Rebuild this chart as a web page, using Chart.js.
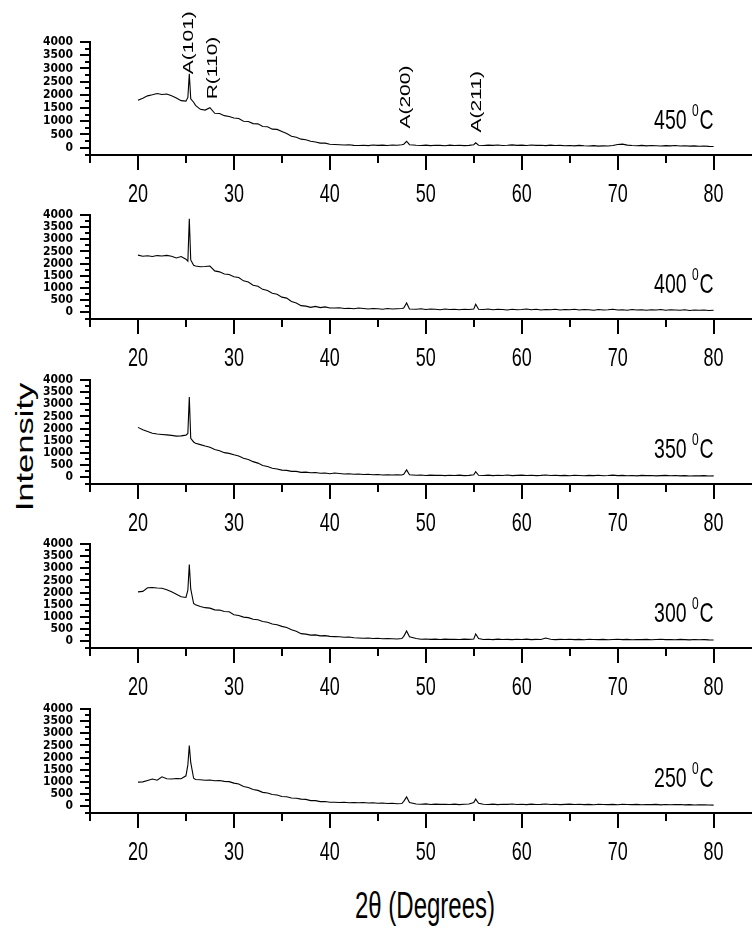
<!DOCTYPE html>
<html>
<head>
<meta charset="utf-8">
<script src="https://cdn.jsdelivr.net/npm/chart.js"></script>
<style>
  html, body { margin: 0; padding: 0; background: #fff; }
  #fig { position: relative; width: 752px; height: 929px; overflow: hidden; background: #fff; }
  #fig canvas { position: absolute; left: 0; }
  .title { position: absolute; font-family: 'Liberation Sans', Arial, sans-serif; color: #000; white-space: nowrap; line-height: 1; }
  #ytitle { left: 25px; top: 447px; font-size: 23px; transform: translate(-50%, -50%) rotate(-90deg) scaleX(1.5); }
  #xtitle { left: 425px; top: 906px; font-size: 24px; transform: translate(-50%, -50%) scaleY(1.55); }
</style>
</head>
<body>
<div id="fig">
  <div class="title" id="ytitle">Intensity</div>
  <div class="title" id="xtitle">2θ (Degrees)</div>
</div>
<script>
// 2-theta positions (degrees), shared by all five patterns
const angles = [
  20, 20.5, 21, 21.5, 22, 22.5, 23, 23.5, 24, 24.5, 25,
  25.2, 25.35, 25.5, 25.8,
  26, 26.5, 27, 27.5, 28, 28.5, 29, 29.5, 30, 30.5, 31, 31.5, 32, 32.5, 33, 33.5, 34, 34.5, 35, 35.5, 36, 36.5, 37, 37.5, 38, 38.5, 39, 39.5, 40,
  40.5, 41, 41.5, 42, 42.5, 43, 43.5, 44, 44.5, 45, 45.5, 46, 46.5, 47, 47.5,
  47.7, 48, 48.3,
  49, 49.5, 50, 50.5, 51, 51.5, 52, 52.5, 53, 53.5, 54, 54.5, 55,
  55.2, 55.5,
  56, 56.5, 57, 57.5, 58, 58.5, 59, 59.5, 60, 60.5, 61, 61.5, 62, 62.5, 63, 63.5, 64, 64.5, 65, 65.5,
  66, 66.5, 67, 67.5, 68, 68.5, 69, 69.5, 70, 70.5, 71, 71.5, 72, 72.5, 73, 73.5, 74, 74.5, 75, 75.5,
  76, 76.5, 77, 77.5, 78, 78.5, 79, 79.5, 80
];

const s450 = [
  1790, 1870, 1960, 2000, 2050, 2010, 2030, 1960, 1880, 1780, 1760,
  1900, 2800, 1850, 1720,
  1600, 1450, 1420, 1510, 1300, 1290, 1210, 1180, 1120, 1100, 1000, 990, 910, 900, 800, 790, 700, 690, 610, 530, 430, 390, 320, 300, 240, 210, 170, 170, 130,
  120, 110, 100, 110, 85, 80, 90, 75, 100, 85, 95, 80, 100, 90, 110,
  130, 240, 110,
  90, 80, 95, 75, 90, 85, 70, 95, 80, 90, 75, 85, 110,
  180, 90,
  80, 95, 85, 100, 80, 90, 105, 85, 95, 80, 100, 85, 90, 75, 95, 80, 85, 70, 80, 65,
  85, 70, 60, 75, 55, 65, 60, 80, 120, 130, 95, 80, 70, 85, 65, 80, 70, 60, 75, 65,
  80, 60, 70, 55, 65, 50, 60, 45, 40
];

const s400 = [
  2350, 2300, 2320, 2290, 2330, 2310, 2340, 2300, 2230, 2290, 2180,
  2100, 3850, 2150, 1930,
  1900, 1870, 1880, 1900, 1700, 1660, 1570, 1550, 1460, 1430, 1290, 1240, 1110, 1070, 940, 890, 780, 740, 620, 580, 440, 380, 270, 250, 200, 240, 190, 220, 170,
  170, 180, 150, 160, 140, 170, 150, 130, 150, 140, 120, 150, 130, 140, 150,
  170, 380, 130,
  120, 140, 110, 130, 120, 100, 130, 110, 120, 100, 120, 110, 130,
  330, 120,
  110, 130, 100, 120, 110, 90, 120, 100, 110, 130, 100, 120, 90, 110, 100, 120, 90, 110, 100, 120,
  90, 110, 100, 80, 110, 90, 100, 120, 90, 100, 80, 110, 90, 100, 80, 100, 90, 110, 80, 100,
  90, 80, 100, 70, 90, 80, 90, 70, 80
];

const s350 = [
  2050, 1950, 1880, 1810, 1780, 1760, 1740, 1720, 1690, 1700, 1730,
  1800, 3300, 1600, 1450,
  1400, 1340, 1280, 1230, 1140, 1090, 1010, 980, 920, 870, 780, 730, 640, 580, 480, 440, 370, 340, 290, 280, 240, 240, 200, 210, 180, 190, 160, 170, 140,
  170, 150, 130, 140, 120, 130, 110, 120, 100, 110, 90, 100, 90, 100, 90,
  120, 300, 100,
  80, 90, 70, 85, 75, 80, 65, 80, 70, 85, 65, 75, 100,
  230, 80,
  70, 85, 65, 80, 70, 90, 65, 75, 85, 70, 80, 65, 75, 90, 70, 80, 65, 75, 60, 80,
  70, 60, 75, 65, 80, 60, 70, 85, 65, 75, 60, 70, 55, 75, 65, 70, 55, 65, 75, 60,
  70, 55, 65, 50, 60, 55, 65, 50, 55
];

const s300 = [
  2030, 2050, 2200, 2210, 2190, 2180, 2120, 2030, 1930, 1830, 1800,
  2100, 3150, 2150, 1550,
  1500, 1430, 1380, 1360, 1290, 1280, 1220, 1210, 1090, 1060, 990, 970, 900, 880, 810, 780, 710, 680, 610, 560, 470, 410, 310, 290, 250, 260, 220, 230, 200,
  190, 180, 160, 170, 140, 130, 120, 130, 110, 120, 100, 110, 100, 90, 110,
  200, 420, 180,
  110, 80, 90, 75, 85, 70, 85, 75, 80, 70, 85, 75, 90,
  300, 110,
  70, 80, 65, 85, 70, 75, 65, 80, 70, 85, 65, 75, 70, 130, 80, 65, 75, 70, 80, 65,
  75, 60, 80, 70, 65, 75, 60, 70, 80, 65, 75, 60, 70, 65, 75, 60, 70, 80, 65, 70,
  60, 75, 65, 55, 70, 60, 65, 55, 50
];

const s250 = [
  990, 1000, 1060, 1120, 1070, 1210, 1130, 1120, 1140, 1130, 1250,
  1700, 2500, 1800, 1150,
  1100, 1090, 1070, 1080, 1050, 1060, 1020, 1010, 950, 910, 810, 770, 690, 650, 570, 540, 480, 460, 400, 390, 340, 330, 290, 280, 230, 230, 190, 190, 160,
  160, 150, 160, 140, 150, 140, 150, 130, 140, 120, 130, 110, 120, 100, 110,
  200, 380, 150,
  90, 80, 95, 70, 85, 75, 80, 70, 85, 65, 80, 90, 150,
  290, 120,
  80, 70, 85, 65, 80, 75, 90, 70, 80, 65, 85, 70, 75, 90, 70, 80, 65, 75, 85, 70,
  80, 65, 75, 60, 80, 70, 65, 75, 60, 80, 70, 65, 75, 60, 70, 65, 75, 55, 70, 60,
  65, 70, 55, 65, 50, 60, 55, 50, 45
];

const temps = ['450', '400', '350', '300', '250'];
const patterns = [s450, s400, s350, s300, s250];

const xTicks = [15, 20, 25, 30, 35, 40, 45, 50, 55, 60, 65, 70, 75, 80];
const yTicks = [0, 250, 500, 750, 1000, 1250, 1500, 1750, 2000, 2250, 2500, 2750, 3000, 3250, 3500, 3750, 4000];

// reflection labels (top pattern only): name, angle, intensity where the text starts
const peakNames = ['A(101)', 'R(110)', 'A(200)', 'A(211)'];
const peakAngles = [25.32, 27.8, 48.0, 55.3];
const peakLabelAt = [2780, 1830, 720, 570];

// layout
const panelTops = [42, 206, 371, 535, 700];
const PLOT_H = 113;
const AXIS_H = 50;
const sans = "'Liberation Sans', Arial, sans-serif";
const narrow = "'Liberation Sans Narrow', 'DejaVu Sans Condensed', 'Liberation Sans', sans-serif";

// axis lines, major/minor tick marks, x labels, temperature and reflection labels
const xrdPlugin = {
  id: 'xrd',
  afterDatasetsDraw(chart, args, opts) {
    const { ctx, chartArea: area, scales: { x, y } } = chart;
    ctx.save();
    ctx.strokeStyle = '#000';
    ctx.fillStyle = '#000';
    ctx.lineWidth = 2;
    ctx.beginPath();
    ctx.moveTo(area.left, Math.round(y.getPixelForValue(4000)) - 1);
    ctx.lineTo(area.left, area.bottom);
    ctx.moveTo(area.left - 5, area.bottom);
    ctx.lineTo(chart.width, area.bottom);
    x.ticks.forEach(t => {
      const px = Math.round(x.getPixelForValue(t.value));
      const len = t.value % 10 === 0 ? 15 : 8;
      ctx.moveTo(px, area.bottom);
      ctx.lineTo(px, area.bottom + len);
    });
    y.ticks.forEach(t => {
      const py = Math.round(y.getPixelForValue(t.value));
      const len = t.value % 500 === 0 ? 10 : 5;
      ctx.moveTo(area.left, py);
      ctx.lineTo(area.left - len, py);
    });
    ctx.stroke();

    // x tick labels, tall like the original
    ctx.textAlign = 'center';
    ctx.textBaseline = 'alphabetic';
    ctx.font = '18px ' + sans;
    x.ticks.forEach(t => {
      if (t.value % 10 !== 0) return;
      ctx.save();
      ctx.translate(x.getPixelForValue(t.value), area.bottom + 47);
      ctx.scale(1, 1.45);
      ctx.fillText(String(t.value), 0, 0);
      ctx.restore();
    });

    // "450 °C" style label
    const right = x.getPixelForValue(80);
    ctx.save();
    ctx.translate(0, area.bottom - 26);
    ctx.scale(1, 1.45);
    ctx.textAlign = 'right';
    ctx.font = '19.5px ' + sans;
    ctx.fillText('C', right, 0);
    ctx.fillText(opts.temp, right - 27, 0);
    ctx.font = '12px ' + sans;
    ctx.fillText('0', right - 15, -13 / 1.45);
    ctx.restore();

    if (opts.peaks) {
      ctx.font = '14px ' + sans;
      ctx.textAlign = 'left';
      ctx.textBaseline = 'middle';
      peakNames.forEach((name, i) => {
        ctx.save();
        ctx.translate(x.getPixelForValue(peakAngles[i]), y.getPixelForValue(peakLabelAt[i]));
        ctx.rotate(-Math.PI / 2);
        ctx.scale(1.5, 1);
        ctx.fillText(name, 0, 0);
        ctx.restore();
      });
    }
    ctx.restore();
  }
};

const fig = document.getElementById('fig');

temps.forEach((temp, k) => {
  const canvasTop = k === 0 ? 0 : panelTops[k] - 14;
  const padTop = panelTops[k] - canvasTop;
  const canvas = document.createElement('canvas');
  canvas.width = 752;
  canvas.height = padTop + PLOT_H + AXIS_H;
  canvas.style.top = canvasTop + 'px';
  fig.appendChild(canvas);

  new Chart(canvas, {
    type: 'line',
    data: {
      datasets: [{
        data: angles.map((a, i) => ({ x: a, y: patterns[k][i] })),
        borderColor: '#000',
        borderWidth: 1.1,
        pointRadius: 0,
        tension: 0,
        fill: false
      }]
    },
    options: {
      responsive: false,
      animation: false,
      devicePixelRatio: 1,
      layout: { padding: { top: padTop, right: 0, bottom: 0, left: 0 } },
      plugins: {
        legend: { display: false },
        tooltip: { enabled: false },
        xrd: { temp: temp, peaks: k === 0 }
      },
      scales: {
        x: {
          type: 'linear',
          min: 15,
          max: 84,
          afterBuildTicks: s => { s.ticks = xTicks.map(v => ({ value: v })); },
          afterFit: s => { s.height = AXIS_H; },
          grid: { display: false, drawTicks: false },
          border: { display: false },
          ticks: { display: false }
        },
        y: {
          min: -280,
          max: 4000,
          afterBuildTicks: s => { s.ticks = yTicks.map(v => ({ value: v })); },
          afterFit: s => { s.width = 90; },
          grid: { display: false, drawTicks: false },
          border: { display: false },
          ticks: {
            autoSkip: false,
            padding: 17,
            color: '#000',
            font: { family: narrow, size: 12, weight: 'bold', lineHeight: 1 },
            callback: v => (v % 500 === 0 ? String(v) : '')
          }
        }
      }
    },
    plugins: [xrdPlugin]
  });
});
</script>
</body>
</html>
